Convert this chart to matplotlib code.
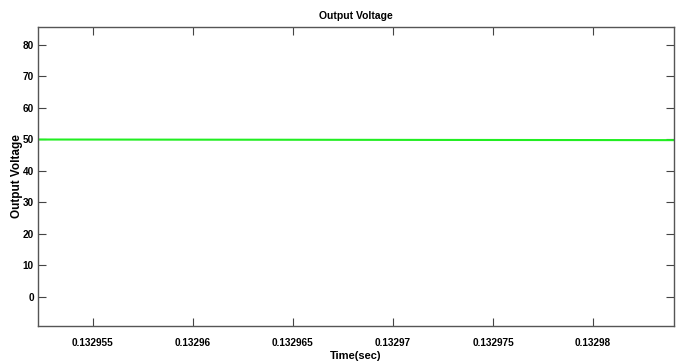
import matplotlib
matplotlib.use('Agg')
import matplotlib.pyplot as plt

plt.rcParams['font.family'] = ['Liberation Sans', 'DejaVu Sans']
plt.rcParams['font.weight'] = 'bold'

graphWidth = 681  # units are pixels
graphHeight = 361  # units are pixels

# sampled output voltage over the zoomed time window
time_sec = [0.1329520, 0.1329560, 0.1329600, 0.1329640, 0.1329680,
            0.1329720, 0.1329760, 0.1329800, 0.1329845]
voltage = [49.95, 49.93, 49.90, 49.88, 49.85, 49.82, 49.80, 49.78, 49.75]

x_ticks = [0.132955, 0.13296, 0.132965, 0.13297, 0.132975, 0.13298]
x_tick_labels = ['0.132955', '0.13296', '0.132965', '0.13297', '0.132975', '0.13298']
y_ticks = [0, 10, 20, 30, 40, 50, 60, 70, 80]

f = plt.figure(figsize=(graphWidth/100.0, graphHeight/100.0), dpi=100)
axes = f.add_axes([38/681, 35/361, 636/681, 299/361])

axes.plot(time_sec, voltage, color='#22ee22', linewidth=1.5)

axes.set_xlim(0.13295225, 0.13298405)
axes.set_ylim(-9.3, 85.7)
axes.set_xticks(x_ticks)
axes.set_xticklabels(x_tick_labels)
axes.set_yticks(y_ticks)

axes.tick_params(direction='in', top=True, right=True, length=5.5, width=0.8,
                 color='#444444', labelsize=7.2)
axes.tick_params(axis='x', pad=9)
axes.tick_params(axis='y', pad=3)
for s in axes.spines.values():
    s.set_color('#555555')
    s.set_linewidth(1.0)

axes.set_title('Output Voltage', fontsize=7.5, fontweight='bold', pad=6)
axes.set_xlabel('Time(sec)', fontsize=8, fontweight='bold', labelpad=2)
axes.set_ylabel('Output Voltage', fontsize=8.5, fontweight='bold', labelpad=0)

f.savefig('out.png', dpi=100)
plt.close('all')
